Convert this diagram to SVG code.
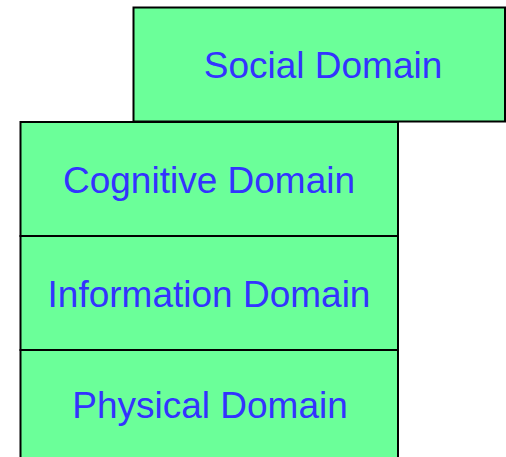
<svg xmlns="http://www.w3.org/2000/svg" width="506" height="457" viewBox="0 0 506 457">
  <style>
    .box { fill: #6bff99; stroke: #000000; stroke-width: 2; }
    .label { font-family: "Liberation Sans", Arial, sans-serif; font-size: 37px; fill: #3333ff; text-anchor: middle; }
  </style>
  <rect width="506" height="457" fill="#ffffff"/>
  <g id="social-domain">
    <rect class="box" x="133.5" y="7.5" width="371.5" height="114"/>
    <text class="label" x="323" y="77.5">Social Domain</text>
  </g>
  <g id="cognitive-domain">
    <rect class="box" x="20.5" y="122" width="377.5" height="114"/>
    <text class="label" x="209" y="192.7">Cognitive Domain</text>
  </g>
  <g id="information-domain">
    <rect class="box" x="20.5" y="236" width="377.5" height="114"/>
    <text class="label" x="209" y="306.7">Information Domain</text>
  </g>
  <g id="physical-domain">
    <rect class="box" x="20.5" y="350" width="377.5" height="114"/>
    <text class="label" x="210" y="417.7">Physical Domain</text>
  </g>
  <g id="connectors"/>
</svg>
